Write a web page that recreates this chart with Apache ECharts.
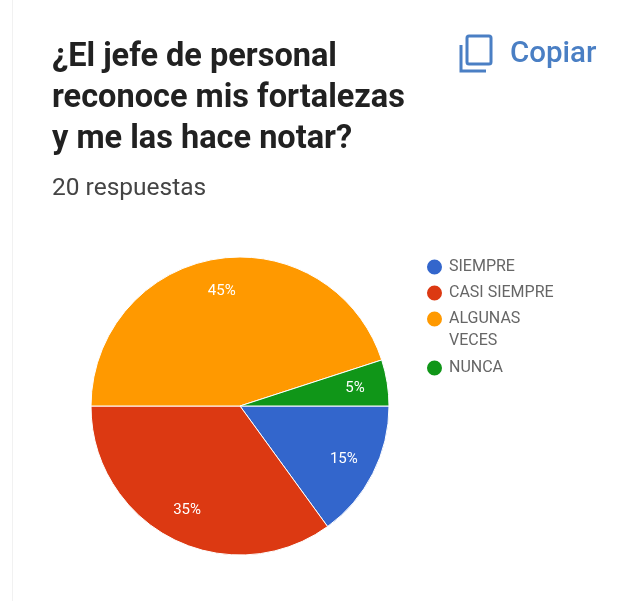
<!DOCTYPE html>
<html>
<head>
<meta charset="utf-8">
<style>html,body{margin:0;padding:0;background:#fff}#chart{width:639px;height:601px}</style>
<script src="https://cdn.jsdelivr.net/npm/echarts@6/dist/echarts.min.js"></script>
</head>
<body>
<div id="chart"></div>
<script>
const categories = ['SIEMPRE', 'CASI SIEMPRE', 'ALGUNAS\nVECES', 'NUNCA'];
const values = [15, 35, 45, 5];
const colors = ['#3366cc', '#dc3912', '#ff9900', '#109618'];
const titleLines = '¿El jefe de personal\nreconoce mis fortalezas\ny me las hace notar?';
const subtitle = '20 respuestas';
const actionLabel = 'Copiar';

// Mid-angle of each slice, measured clockwise from 3 o'clock
const total = values.reduce((a, b) => a + b, 0);
let running = 0;
const midAngles = values.map(v => {
  const mid = (running + v / 2) / total * 2 * Math.PI;
  running += v;
  return mid;
});
// Percentages sit near the rim rather than halfway along the radius
const labelPush = 39;

const legendBase = {
  orient: 'vertical',
  left: 420,
  icon: 'circle',
  itemWidth: 17,
  itemHeight: 17,
  itemGap: 4,
  selectedMode: false,
  textStyle: {fontFamily: 'Roboto', fontSize: 16, color: '#666666', lineHeight: 22, padding: [0, 0, 0, 1]}
};

const chart = echarts.init(document.getElementById('chart'), null, {renderer: 'canvas'});
chart.setOption({
  animation: false,
  backgroundColor: '#ffffff',
  color: colors,
  title: [
    {text: titleLines, left: 47, top: 32,
     textStyle: {fontFamily: 'Roboto', fontSize: 32.5, fontWeight: 700, color: '#212121', lineHeight: 41}},
    {text: subtitle, left: 47, top: 171,
     textStyle: {fontFamily: 'Roboto', fontSize: 24.5, fontWeight: 400, color: '#444444'}},
    {text: actionLabel, left: 505, top: 35,
     textStyle: {fontFamily: 'Roboto', fontSize: 29.5, fontWeight: 500, color: '#4a7fc4'}}
  ],
  legend: [
    Object.assign({}, legendBase, {top: 251, data: categories.slice(0, 2)}),
    // The wrapped entry keeps its marker level with the first text line
    Object.assign({}, legendBase, {top: 281, data: [categories[2]], formatter: name => '\n' + name}),
    Object.assign({}, legendBase, {top: 352, data: [categories[3]]})
  ],
  graphic: [
    // left edge of the card
    {type: 'rect', shape: {x: 12, y: 0, width: 1, height: 601}, style: {fill: '#f1f1f1'}},
    // copy icon: front page and back-page corner
    {type: 'rect', shape: {x: 467, y: 36, width: 24, height: 28, r: 2},
     style: {fill: 'none', stroke: '#4a7fc4', lineWidth: 3}},
    {type: 'polyline', shape: {points: [[461, 45], [461, 71], [486, 71]]},
     style: {fill: 'none', stroke: '#4a7fc4', lineWidth: 3}}
  ],
  series: [{
    type: 'pie',
    center: [240, 406],
    radius: [0, 149],
    startAngle: 0,
    clockwise: true,
    silent: true,
    data: categories.map((name, i) => ({name, value: values[i]})),
    label: {
      show: true,
      position: 'inside',
      formatter: '{d}%',
      fontFamily: 'Roboto',
      fontSize: 15,
      color: '#ffffff'
    },
    labelLayout: params => ({
      dx: labelPush * Math.cos(midAngles[params.dataIndex]),
      dy: labelPush * Math.sin(midAngles[params.dataIndex])
    }),
    labelLine: {show: false},
    itemStyle: {borderColor: '#ffffff', borderWidth: 1}
  }]
});
</script>
</body>
</html>
